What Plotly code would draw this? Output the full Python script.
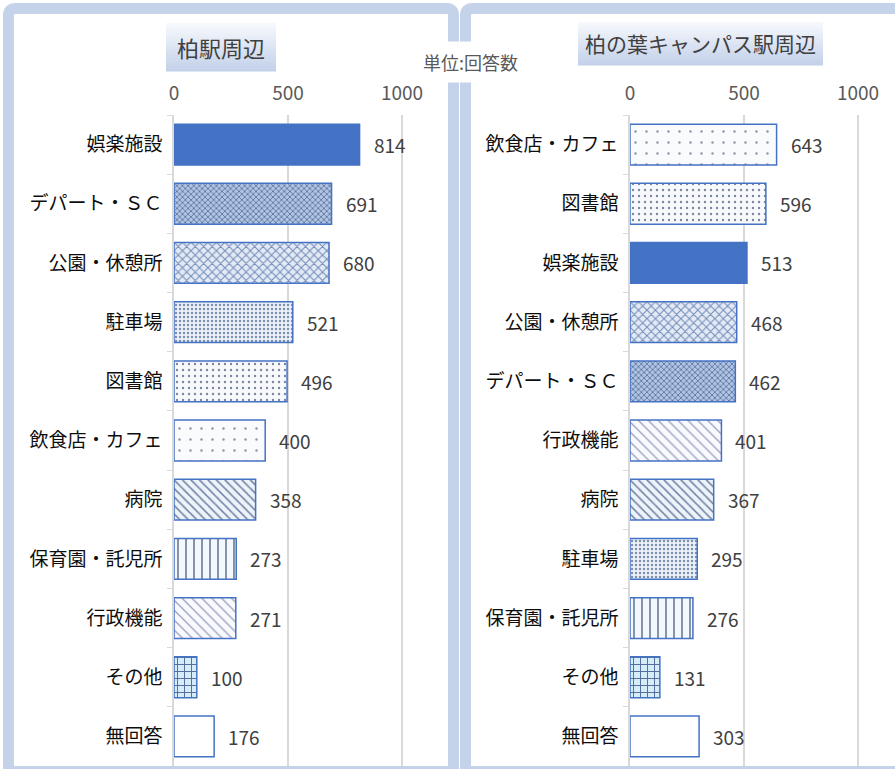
import plotly.graph_objects as go

W, H = 895, 769

# ---- data ----
cats_left = ["娯楽施設", "デパート・ＳＣ", "公園・休憩所", "駐車場", "図書館", "飲食店・カフェ",
             "病院", "保育園・託児所", "行政機能", "その他", "無回答"]
vals_left = [814, 691, 680, 521, 496, 400, 358, 273, 271, 100, 176]

cats_right = ["飲食店・カフェ", "図書館", "娯楽施設", "公園・休憩所", "デパート・ＳＣ", "行政機能",
              "病院", "駐車場", "保育園・託児所", "その他", "無回答"]
vals_right = [643, 596, 513, 468, 462, 401, 367, 295, 276, 131, 303]

title_left = "柏駅周辺"
title_right = "柏の葉キャンパス駅周辺"
unit_label = "単位:回答数"
x_ticks = [0, 500, 1000]

# ---- styles per category (shape, fg, bg, size, solidity) ----
BLUE = "#4472C4"
styles = {
    "娯楽施設":       ("", BLUE, BLUE, 8, 0.3),
    "デパート・ＳＣ": ("x", "#5a78a8", "#b3c4e0", 4, 0.4),
    "公園・休憩所":   ("x", "#6f8bb8", "#e3eaf5", 6, 0.3),
    "駐車場":         (".", "#7d90b0", "#eef2f8", 4, 0.3),
    "図書館":         (".", "#7a869c", "#f7f9fc", 6, 0.12),
    "飲食店・カフェ": (".", "#8d97a8", "#fafbfd", 11, 0.04),
    "病院":           ("\\", "#6b7fa3", "#eef2f9", 6, 0.25),
    "保育園・託児所": ("|", "#5a6b8c", "#f3f8fd", 8, 0.18),
    "行政機能":       ("\\", "#9a9ec0", "#f9fafd", 7, 0.18),
    "その他":         ("+", "#50679a", "#d5ecf9", 7, 0.25),
    "無回答":         ("", "#ffffff", "#ffffff", 8, 0.3),
}

def X(px):
    return px / W

def Y(py):
    return 1 - py / H

fig = go.Figure()
for cats, vals, xa, ya in [(cats_left, vals_left, "x", "y"), (cats_right, vals_right, "x2", "y2")]:
    for c, v in zip(cats, vals):
        sh, fg, bg, sz, so = styles[c]
        fig.add_trace(go.Bar(
            x=[v], y=[c], orientation="h", xaxis=xa, yaxis=ya,
            marker=dict(color=bg, line=dict(color=BLUE, width=1.5),
                        pattern=dict(shape=sh, fgcolor=fg, size=sz, fgopacity=1,
                                     solidity=so, fillmode="overlay")),
            hoverinfo="skip",
        ))

scale = 0.228  # px per unit
ydom = [Y(766), Y(115)]
xr = [0, 1005]
common_x = dict(range=xr, side="top", tickvals=x_ticks, showgrid=True, automargin=False,
                gridcolor="#d9d9d9", gridwidth=1.5, zeroline=False, showline=False,
                ticks="", ticklabelstandoff=10,
                tickfont=dict(family="Noto Sans CJK JP", size=19, color="#595959"),
                fixedrange=True)
common_y = dict(autorange="reversed", showline=True, linecolor="#d9d9d9", linewidth=1.5,
                ticks="outside", ticklen=5, tickcolor="#d9d9d9", tickson="boundaries",
                ticklabelstandoff=6, showgrid=False, automargin=False,
                tickfont=dict(family="Noto Sans CJK JP", size=19, color="#0d0d0d"),
                domain=ydom, fixedrange=True)

fig.update_layout(
    template="none",
    width=W, height=H, autosize=False, margin=dict(l=0, r=0, t=0, b=0, pad=0),
    paper_bgcolor="white", plot_bgcolor="rgba(0,0,0,0)",
    showlegend=False, barmode="overlay", bargap=0.31,
    xaxis=dict(domain=[X(174), X(174 + 1005 * scale)], anchor="y", **common_x),
    yaxis=dict(anchor="x", categoryorder="array", categoryarray=cats_left, **common_y),
    xaxis2=dict(domain=[X(630), X(630 + 1005 * scale)], anchor="y2", **common_x),
    yaxis2=dict(anchor="x2", categoryorder="array", categoryarray=cats_right, **common_y),
)

annotations = []
label_font = dict(family="Noto Sans CJK JP", size=19, color="#404040")
for cats, vals, xr_, yr_ in [(cats_left, vals_left, "x", "y"), (cats_right, vals_right, "x2", "y2")]:
    for c, v in zip(cats, vals):
        annotations.append(dict(x=v, y=c, xref=xr_, yref=yr_, text=str(v), showarrow=False,
                                xanchor="left", yanchor="middle", xshift=12, font=label_font))

# titles
shapes = []
def gradient_box(x0, x1, y0, y1, n=18):
    c0 = (0xf6, 0xf8, 0xfc)
    c1 = (0xc3, 0xd1, 0xea)
    for i in range(n):
        t = i / (n - 1)
        col = "rgb(%d,%d,%d)" % tuple(int(round(a + (b - a) * t)) for a, b in zip(c0, c1))
        ya = y0 + (y1 - y0) * i / n
        yb = y0 + (y1 - y0) * (i + 1) / n + 0.5
        shapes.append(dict(type="rect", xref="paper", yref="paper", x0=X(x0), x1=X(x1),
                           y0=Y(yb), y1=Y(ya), fillcolor=col, line=dict(width=0), layer="below"))

gradient_box(166, 276, 23, 71)
gradient_box(578, 823, 22, 65)

annotations.append(dict(x=X(221), y=Y(47), xref="paper", yref="paper", text=title_left,
                        xanchor="center", yanchor="middle",
                        showarrow=False, font=dict(family="Noto Sans CJK JP", size=22, color="#404040")))
annotations.append(dict(x=X(700), y=Y(43.5), xref="paper", yref="paper", text=title_right,
                        xanchor="center", yanchor="middle",
                        showarrow=False, font=dict(family="Noto Sans CJK JP", size=21, color="#404040")))

def frame(x0, y0, x1, y1, r=7):
    p = ("M %f,%f L %f,%f Q %f,%f %f,%f L %f,%f Q %f,%f %f,%f L %f,%f L %f,%f Z" % (
        X(x0), Y(y1), X(x0), Y(y0 + r), X(x0), Y(y0), X(x0 + r), Y(y0),
        X(x1 - r), Y(y0), X(x1), Y(y0), X(x1), Y(y0 + r), X(x1), Y(y1), X(x0), Y(y1)))
    shapes.append(dict(type="path", xref="paper", yref="paper", path=p,
                       line=dict(color="#c5d3ea", width=11), fillcolor="rgba(0,0,0,0)", layer="above"))

frame(8.5, 8.5, 453.5, 771.5)
frame(465.5, 8.5, 910, 771.5)

annotations.append(dict(x=X(471), y=Y(62), xref="paper", yref="paper", text=unit_label,
                        xanchor="center", yanchor="middle",
                        showarrow=False, bgcolor="white", borderpad=7,
                        font=dict(family="Noto Sans CJK JP", size=18, color="#595959")))

fig.update_layout(shapes=shapes, annotations=annotations)
fig.write_html("out.html", config={"responsive": False},
               post_script="document.body.style.margin='0px';document.body.style.overflow='hidden';")
